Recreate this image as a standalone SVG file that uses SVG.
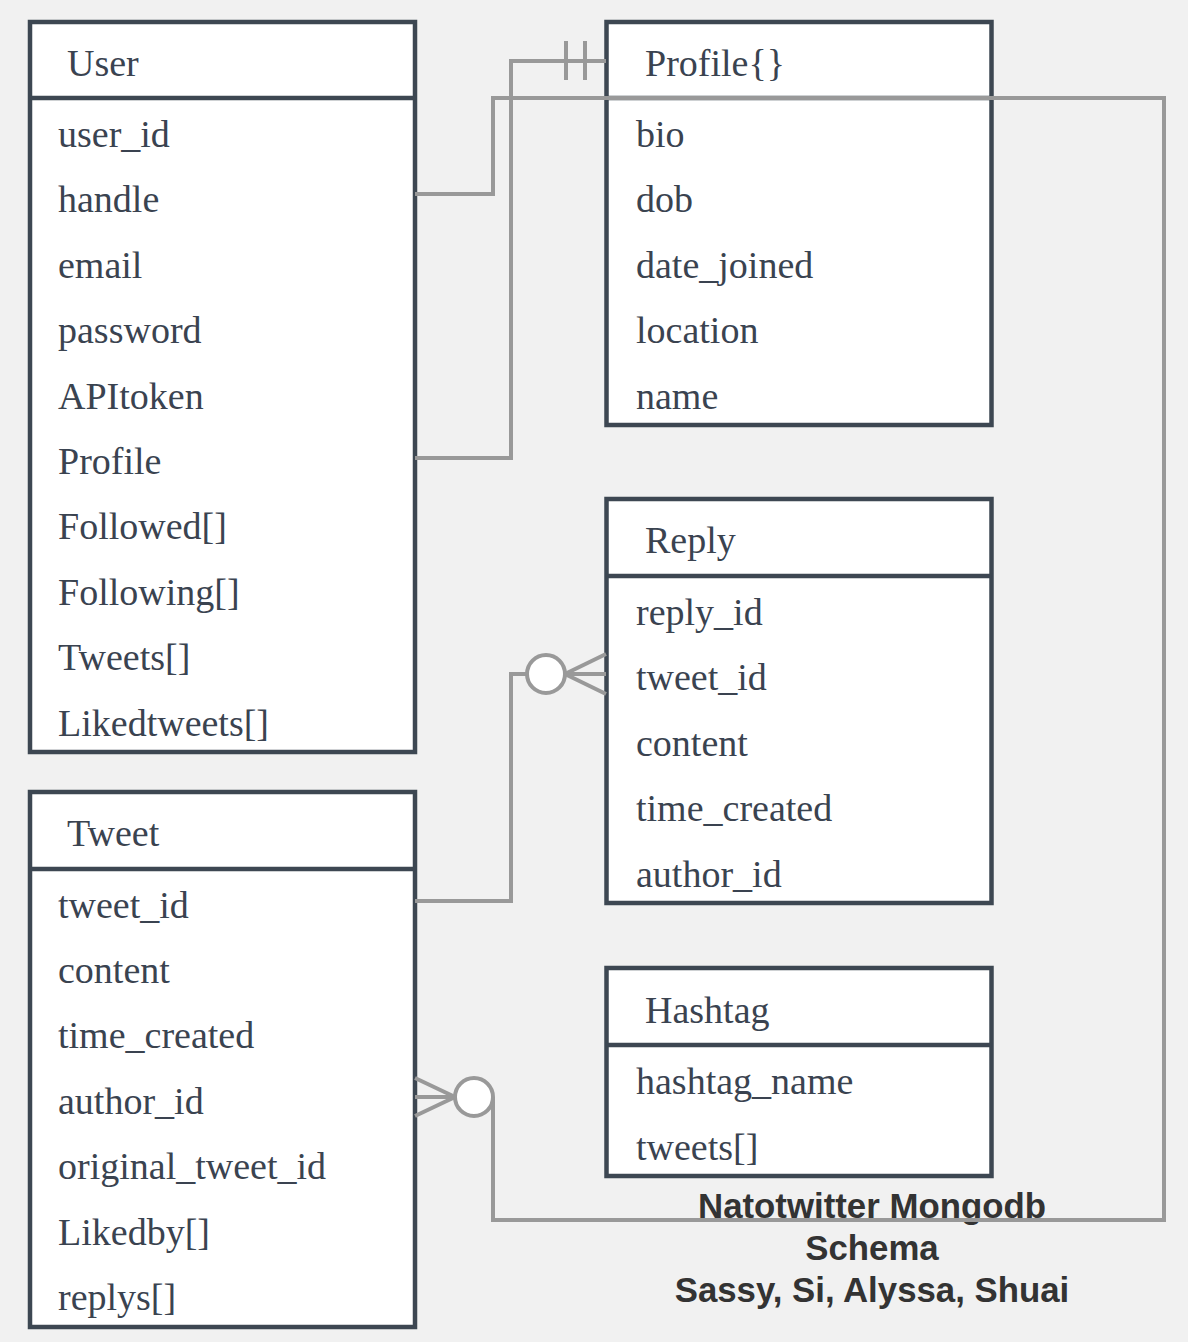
<svg xmlns="http://www.w3.org/2000/svg" width="1188" height="1342" viewBox="0 0 1188 1342">
<style>
.box{fill:#ffffff;stroke:#3d4752;stroke-width:4.5}
.sep{stroke:#3d4752;stroke-width:4.5}
.t{font-family:"Liberation Serif",serif;font-size:38px;fill:#3a4350}
.title{font-family:"Liberation Sans",Arial,sans-serif;font-size:34.8px;font-weight:bold;fill:#333333;text-anchor:middle}
.c{fill:none;stroke:#999999;stroke-width:4}
.o{fill:#ffffff;stroke:#999999;stroke-width:4}
</style>
<rect x="0" y="0" width="1188" height="1342" fill="#f1f1f1"/>
<g id="user">
<rect class="box" x="30" y="22" width="385" height="730"/>
<line class="sep" x1="30" y1="98" x2="415" y2="98"/>
<text class="t" x="67" y="76">User</text>
<text class="t" x="58" y="147">user_id</text>
<text class="t" x="58" y="212">handle</text>
<text class="t" x="58" y="278">email</text>
<text class="t" x="58" y="343">password</text>
<text class="t" x="58" y="409">APItoken</text>
<text class="t" x="58" y="474">Profile</text>
<text class="t" x="58" y="539">Followed[]</text>
<text class="t" x="58" y="605">Following[]</text>
<text class="t" x="58" y="670">Tweets[]</text>
<text class="t" x="58" y="736">Likedtweets[]</text>
</g>
<g id="profile">
<rect class="box" x="606.5" y="22" width="385" height="403"/>
<line class="sep" x1="606.5" y1="98" x2="991.5" y2="98"/>
<text class="t" x="645" y="76">Profile{}</text>
<text class="t" x="636" y="147">bio</text>
<text class="t" x="636" y="212">dob</text>
<text class="t" x="636" y="278">date_joined</text>
<text class="t" x="636" y="343">location</text>
<text class="t" x="636" y="409">name</text>
</g>
<g id="reply">
<rect class="box" x="606.5" y="499" width="385" height="404"/>
<line class="sep" x1="606.5" y1="576" x2="991.5" y2="576"/>
<text class="t" x="645" y="553">Reply</text>
<text class="t" x="636" y="625">reply_id</text>
<text class="t" x="636" y="690">tweet_id</text>
<text class="t" x="636" y="756">content</text>
<text class="t" x="636" y="821">time_created</text>
<text class="t" x="636" y="887">author_id</text>
</g>
<g id="tweet">
<rect class="box" x="30" y="792" width="385" height="535"/>
<line class="sep" x1="30" y1="869" x2="415" y2="869"/>
<text class="t" x="67" y="846">Tweet</text>
<text class="t" x="58" y="918">tweet_id</text>
<text class="t" x="58" y="983">content</text>
<text class="t" x="58" y="1048">time_created</text>
<text class="t" x="58" y="1114">author_id</text>
<text class="t" x="58" y="1179">original_tweet_id</text>
<text class="t" x="58" y="1245">Likedby[]</text>
<text class="t" x="58" y="1310">replys[]</text>
</g>
<g id="hashtag">
<rect class="box" x="606.5" y="968" width="385" height="208"/>
<line class="sep" x1="606.5" y1="1045" x2="991.5" y2="1045"/>
<text class="t" x="645" y="1023">Hashtag</text>
<text class="t" x="636" y="1094">hashtag_name</text>
<text class="t" x="636" y="1160">tweets[]</text>
</g>
<g id="title">
<text class="title" x="872" y="1218">Natotwitter Mongodb</text>
<text class="title" x="872" y="1260">Schema</text>
<text class="title" x="872" y="1302">Sassy, Si, Alyssa, Shuai</text>
</g>
<g id="connectors">
<path class="c" d="M415 458 H511 V61 H606"/>
<line class="c" x1="566" y1="41" x2="566" y2="80"/>
<line class="c" x1="585" y1="41" x2="585" y2="80"/>
<path class="c" d="M415 194 H493 V98 H1164 V1220 H493 V1097"/>
<path class="c" d="M415 1078 L455 1097 L415 1116 M415 1097 H455"/>
<circle class="o" cx="474" cy="1097" r="19"/>
<path class="c" d="M415 901 H511 V674 H527"/>
<path class="c" d="M606 654 L565 674 L606 694 M606 674 H565"/>
<circle class="o" cx="546" cy="674" r="19"/>
</g>
</svg>
